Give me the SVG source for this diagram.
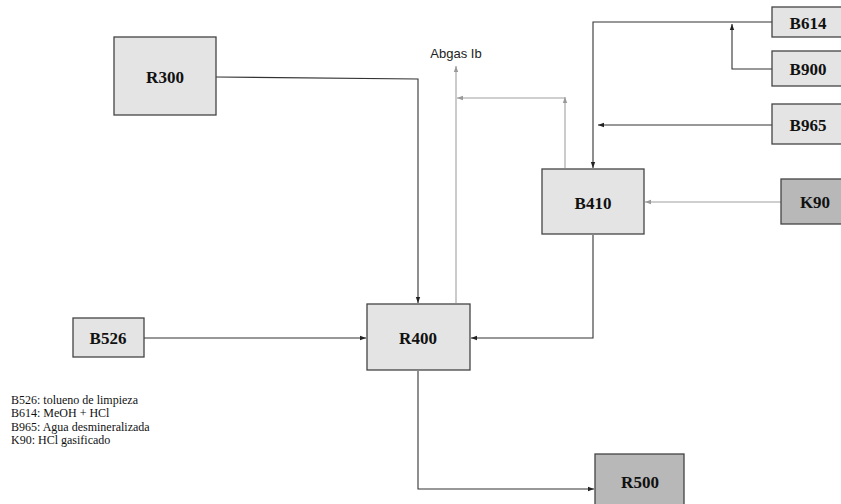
<svg xmlns="http://www.w3.org/2000/svg" width="841" height="504" viewBox="0 0 841 504">
  <defs>
    <marker id="arr" viewBox="0 0 6 6" refX="6" refY="3" markerWidth="6" markerHeight="6" markerUnits="userSpaceOnUse" orient="auto">
      <path d="M0,0.8 L6,3 L0,5.2 Z" fill="#222"/>
    </marker>
    <marker id="arrGray" viewBox="0 0 6 6" refX="6" refY="3" markerWidth="6" markerHeight="6" markerUnits="userSpaceOnUse" orient="auto">
      <path d="M0,0.8 L6,3 L0,5.2 Z" fill="#999"/>
    </marker>
  </defs>
  <style>
    .box { fill: #e4e4e4; stroke: #444; stroke-width: 1.3; }
    .dark { fill: #b8b8b8; stroke: #444; stroke-width: 1.3; }
    .lbl { font-family: "Liberation Serif", "Times New Roman", serif; font-weight: bold; font-size: 17px; fill: #111; text-anchor: middle; dominant-baseline: central; }
    .ln { fill: none; stroke: #333; stroke-width: 1.1; }
    .lg { fill: none; stroke: #a0a0a0; stroke-width: 1.1; }
    .legend { font-family: "Liberation Serif", "Times New Roman", serif; font-size: 12px; fill: #111; }
    .gas { font-family: "Liberation Sans", Arial, sans-serif; font-size: 13px; fill: #222; text-anchor: middle; }
  </style>
  <rect width="841" height="504" fill="#fff"/>

  <g id="connectors">
    <path class="ln" d="M216,77 L418,79 L418,303" marker-end="url(#arr)"/>
    <path class="ln" d="M144,338 L366,338" marker-end="url(#arr)"/>
    <path class="ln" d="M593,235 L593,338 L471,338" marker-end="url(#arr)"/>
    <path class="ln" d="M418,371 L418,489 L594,489" marker-end="url(#arr)"/>
    <path class="ln" d="M772,22 L593,22 L593,168" marker-end="url(#arr)"/>
    <path class="ln" d="M772,69 L732,69 L732,24" marker-end="url(#arr)"/>
    <path class="ln" d="M772,125 L598,125" marker-end="url(#arr)"/>
    <path class="lg" d="M781,202 L645,202" marker-end="url(#arrGray)"/>
    <path class="lg" d="M456,303 L456,66" marker-end="url(#arrGray)"/>
    <path class="lg" d="M565,168 L565,97" marker-end="url(#arrGray)"/>
    <path class="lg" d="M565,98 L457,98" marker-end="url(#arrGray)"/>
  </g>

  <g id="R300"><rect class="box" x="114" y="37" width="102" height="78"/><text class="lbl" x="165" y="77">R300</text></g>
  <g id="R400"><rect class="box" x="367" y="304" width="103" height="66"/><text class="lbl" x="418" y="338">R400</text></g>
  <g id="R500"><rect class="dark" x="595" y="454" width="89" height="60"/><text class="lbl" x="640" y="482">R500</text></g>
  <g id="B410"><rect class="box" x="542" y="169" width="102" height="65"/><text class="lbl" x="593" y="203">B410</text></g>
  <g id="B526"><rect class="box" x="73" y="318" width="71" height="39"/><text class="lbl" x="108" y="338">B526</text></g>
  <g id="B614"><rect class="box" x="772" y="7" width="75" height="30"/><text class="lbl" x="808" y="23">B614</text></g>
  <g id="B900"><rect class="box" x="772" y="51" width="75" height="35"/><text class="lbl" x="808" y="69">B900</text></g>
  <g id="B965"><rect class="box" x="772" y="104" width="75" height="40"/><text class="lbl" x="808" y="125">B965</text></g>
  <g id="K90"><rect class="dark" x="781" y="179" width="66" height="45"/><text class="lbl" x="815" y="202">K90</text></g>

  <text class="gas" x="456" y="58">Abgas Ib</text>

  <g id="legend">
    <text class="legend" x="11" y="404">B526: tolueno de limpieza</text>
    <text class="legend" x="11" y="417">B614: MeOH + HCl</text>
    <text class="legend" x="11" y="431">B965: Agua desmineralizada</text>
    <text class="legend" x="11" y="444">K90: HCl gasificado</text>
  </g>
</svg>
